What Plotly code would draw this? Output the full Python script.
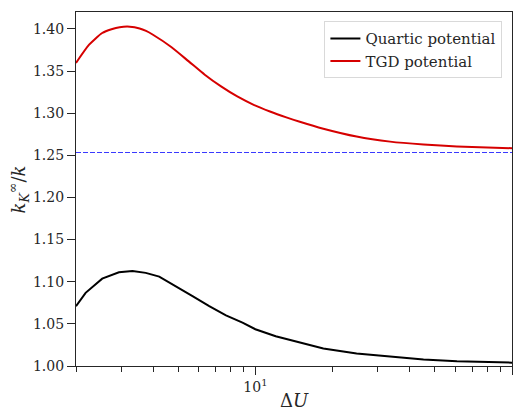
import plotly.graph_objects as go

# Energy barrier ΔU and the ratio k_K^∞ / k for each potential
du_quartic = [2.0, 2.18, 2.53, 2.94, 3.32, 3.74, 4.22, 4.9, 5.69, 6.61, 7.68, 8.91,
              10.0, 12.0, 14.4, 18.4, 24.8, 33.5, 45.2, 61.0, 100.0]
ratio_quartic = [1.0710, 1.0868, 1.1036, 1.1112, 1.1126, 1.1105, 1.1060, 1.0947,
                 1.0830, 1.0710, 1.0600, 1.0515, 1.0436, 1.0353, 1.0293, 1.0207,
                 1.0147, 1.0107, 1.0076, 1.0056, 1.0040]

du_tgd = [2.0, 2.25, 2.53, 2.75, 2.96, 3.24, 3.54, 3.75, 3.99, 4.7, 5.5, 6.35, 7.35,
          8.5, 9.85, 11.4, 13.2, 14.9, 18.4, 24.8, 33.5, 45.2, 61.0, 100.0]
ratio_tgd = [1.3595, 1.3812, 1.3951, 1.3996, 1.4020, 1.4026, 1.4005, 1.3975,
             1.3930, 1.3785, 1.3614, 1.3456, 1.3317, 1.3198, 1.3099, 1.3020,
             1.2950, 1.2897, 1.2815, 1.2722, 1.2662, 1.2628, 1.2605, 1.2584]

# Large-barrier limit sqrt(pi/2)
asymptote = 1.2533
x_limits = [2.0, 100.0]

y_ticks = [1.00, 1.05, 1.10, 1.15, 1.20, 1.25, 1.30, 1.35, 1.40]
x_ticks = [10, 100]
x_ticktext = ["10<sup>1</sup>", "10<sup>2</sup>"]
x_minor = [2, 3, 4, 5, 6, 7, 8, 9, 20, 30, 40, 50, 60, 70, 80, 90]

FONT = "DejaVu Serif, serif"
AX = "#262626"

fig = go.Figure()
fig.add_trace(go.Scatter(x=x_limits, y=[asymptote, asymptote], mode="lines",
                         line=dict(color="#3a3aff", width=1.2, dash="5px,2px"),
                         showlegend=False, hoverinfo="skip"))
fig.add_trace(go.Scatter(x=du_quartic, y=ratio_quartic, mode="lines",
                         name="Quartic potential",
                         line=dict(color="black", width=2)))
fig.add_trace(go.Scatter(x=du_tgd, y=ratio_tgd, mode="lines",
                         name="TGD potential",
                         line=dict(color="#d60000", width=2, shape="spline",
                                   smoothing=0.6)))

fig.update_layout(
    width=522, height=412,
    margin=dict(l=76, r=10, t=12, b=46),
    paper_bgcolor="white", plot_bgcolor="white",
    font=dict(family=FONT, size=14, color="#262626"),
    legend=dict(x=0.978, y=0.974, xanchor="right", yanchor="top",
                bgcolor="white", bordercolor="#d9d9d9", borderwidth=1,
                font=dict(family=FONT, size=15, color="#262626")),
    annotations=[
        dict(text="Δ<i>U</i>", xref="paper", yref="paper", x=0.5, y=-0.097,
             xanchor="center", yanchor="middle", showarrow=False,
             font=dict(family=FONT, size=18, color="#262626")),
        dict(text="<i>k</i><sub><i>K</i></sub><sup>∞</sup>/<i>k</i>",
             xref="paper", yref="paper", x=-0.132, y=0.5, textangle=-90,
             xanchor="center", yanchor="middle", showarrow=False,
             font=dict(family=FONT, size=18, color="#262626")),
    ],
)

fig.update_xaxes(
    type="log", range=[0.30103, 2.0],
    tickmode="array", tickvals=x_ticks, ticktext=x_ticktext,
    ticks="outside", ticklen=8, tickwidth=1.2, tickcolor=AX,
    tickfont=dict(family=FONT, size=14),
    minor=dict(tickmode="array", tickvals=x_minor, ticks="outside",
               ticklen=5, tickwidth=1, tickcolor=AX),
    showgrid=False, zeroline=False,
    showline=True, linecolor=AX, linewidth=1.3, mirror=True,
)
fig.update_yaxes(
    range=[1.0, 1.42],
    tickmode="array", tickvals=y_ticks, tickformat=".2f",
    ticks="outside", ticklen=8, tickwidth=1.2, tickcolor=AX,
    tickfont=dict(family=FONT, size=14),
    showgrid=False, zeroline=False,
    showline=True, linecolor=AX, linewidth=1.3, mirror=True,
)

fig.write_html("out.html")
